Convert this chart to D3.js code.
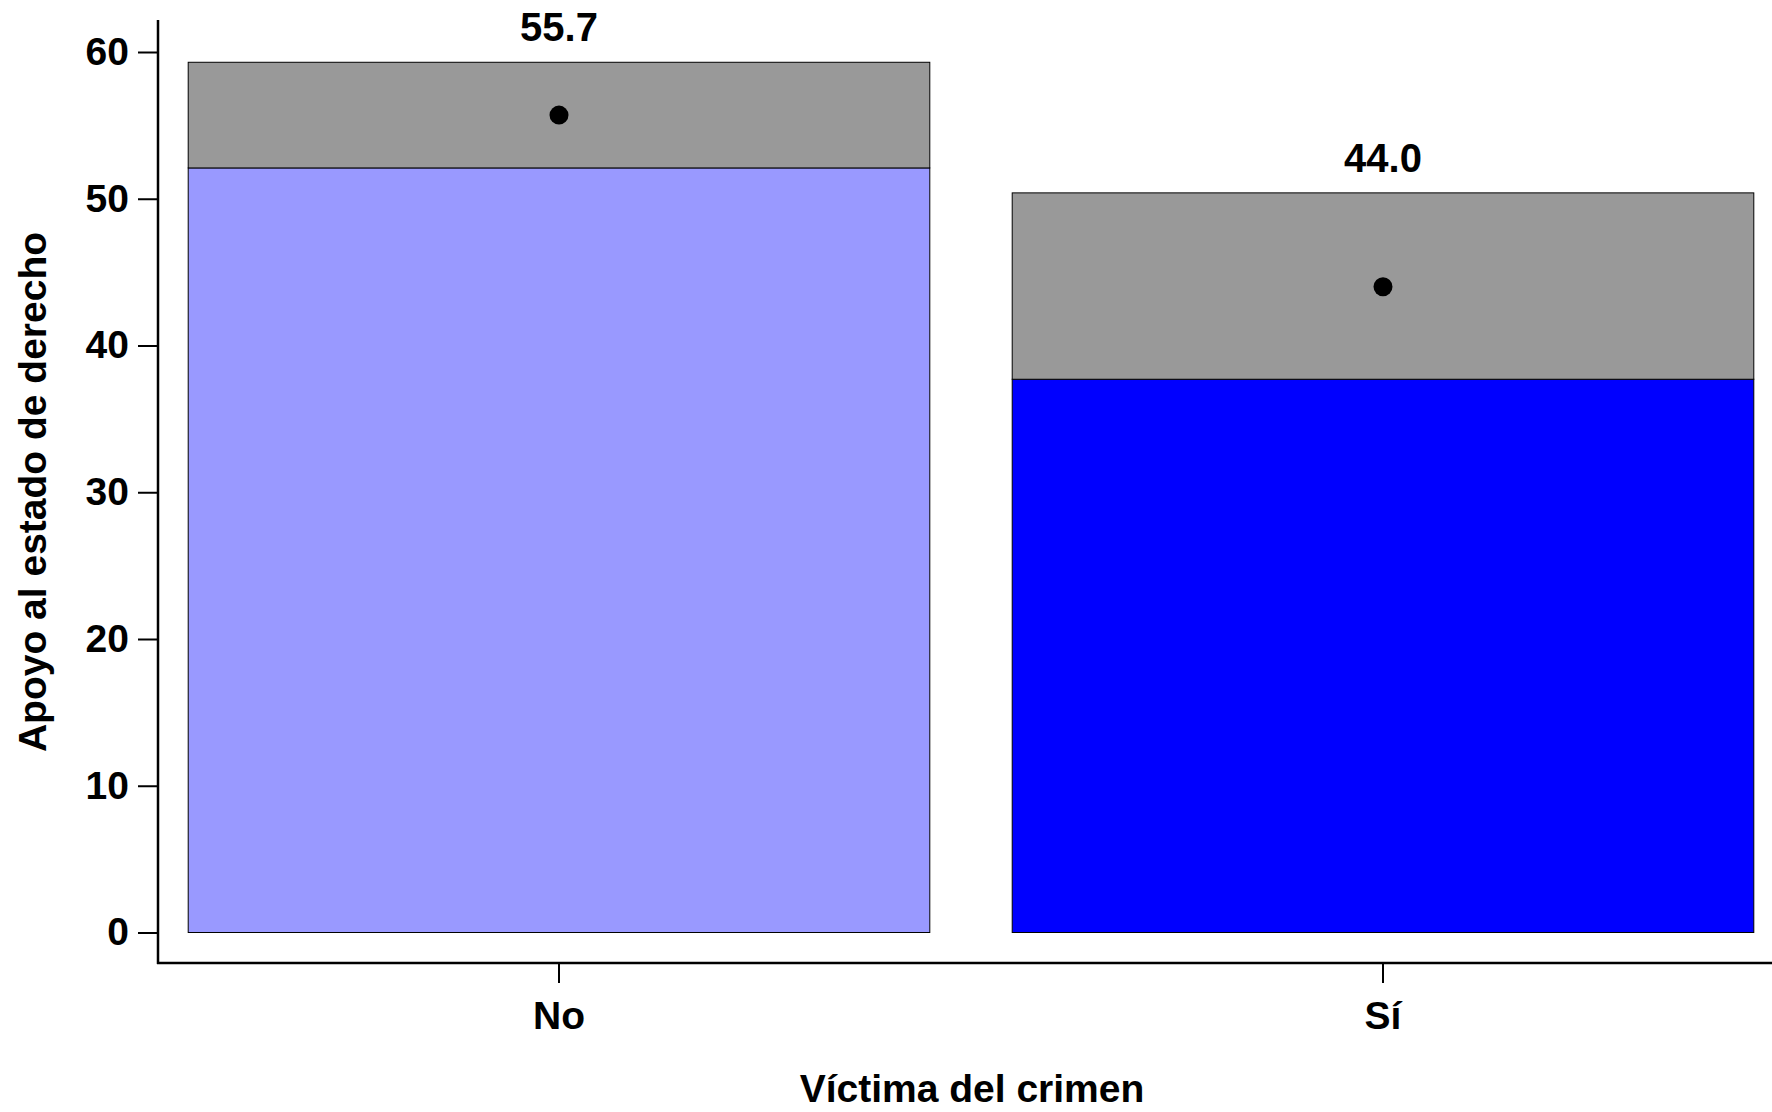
<!DOCTYPE html>
<html>
<head>
<meta charset="utf-8">
<script src="https://cdn.jsdelivr.net/npm/d3@7"></script>
<style>
  html, body { margin: 0; padding: 0; background: #fff; }
  svg { display: block; }
  text { font-family: "Liberation Sans", Arial, sans-serif; font-weight: bold; fill: #000; }
</style>
</head>
<body>
<svg id="chart" width="1772" height="1112"></svg>
<script>
const categories = ["No", "Sí"];
const means = [55.7, 44.0];
const lowerCI = [52.1, 37.7];
const upperCI = [59.3, 50.4];
const barColors = ["#9999ff", "#0000ff"];
const yTicks = [0, 10, 20, 30, 40, 50, 60];
const xTitle = "Víctima del crimen";
const yTitle = "Apoyo al estado de derecho";

const svg = d3.select("#chart");

const x = d3.scaleBand()
  .domain(categories)
  .range([147, 1795])
  .paddingInner(0.1)
  .paddingOuter(0.05);

const y = d3.scaleLinear()
  .domain([0, 60])
  .range([932.5, 52]);

const g = svg.append("g");
categories.forEach((c, i) => {
  g.append("rect")
    .attr("x", x(c))
    .attr("y", y(lowerCI[i]))
    .attr("width", x.bandwidth())
    .attr("height", y(0) - y(lowerCI[i]))
    .attr("fill", barColors[i])
    .attr("stroke", "#000")
    .attr("stroke-width", 1);
  g.append("rect")
    .attr("x", x(c))
    .attr("y", y(upperCI[i]))
    .attr("width", x.bandwidth())
    .attr("height", y(lowerCI[i]) - y(upperCI[i]))
    .attr("fill", "#999999")
    .attr("stroke", "#000")
    .attr("stroke-width", 1);
  g.append("circle")
    .attr("cx", x(c) + x.bandwidth() / 2)
    .attr("cy", y(means[i]))
    .attr("r", 9.5)
    .attr("fill", "#000");
  g.append("text")
    .attr("x", x(c) + x.bandwidth() / 2)
    .attr("y", y(upperCI[i]) - 35)
    .attr("text-anchor", "middle")
    .attr("dominant-baseline", "central")
    .style("font-size", "40px")
    .text(means[i].toFixed(1));
});

const yAxis = svg.append("g")
  .attr("transform", "translate(158,0)")
  .call(d3.axisLeft(y).tickValues(yTicks).tickSize(20).tickPadding(9).tickSizeOuter(0));
yAxis.select(".domain").remove();
yAxis.selectAll(".tick line").attr("stroke", "#000").attr("stroke-width", 2);
yAxis.selectAll(".tick text").style("font-size", "39px").attr("font-family", null);

const xAxis = svg.append("g")
  .attr("transform", "translate(0,963)")
  .call(d3.axisBottom(x).tickSize(20).tickPadding(18).tickSizeOuter(0));
xAxis.select(".domain").remove();
xAxis.selectAll(".tick line").attr("stroke", "#000").attr("stroke-width", 2);
xAxis.selectAll(".tick text").style("font-size", "39px").attr("font-family", null);

svg.append("line")
  .attr("x1", 158).attr("x2", 158)
  .attr("y1", 20).attr("y2", 964)
  .attr("stroke", "#000").attr("stroke-width", 2.5);
svg.append("line")
  .attr("x1", 157).attr("x2", 1772)
  .attr("y1", 963).attr("y2", 963)
  .attr("stroke", "#000").attr("stroke-width", 2.5);

svg.append("text")
  .attr("x", 972)
  .attr("y", 1088)
  .attr("text-anchor", "middle")
  .attr("dominant-baseline", "central")
  .style("font-size", "39px")
  .text(xTitle);

svg.append("text")
  .attr("transform", "translate(32,492) rotate(-90)")
  .attr("text-anchor", "middle")
  .attr("dominant-baseline", "central")
  .style("font-size", "39px")
  .text(yTitle);
</script>
</body>
</html>
